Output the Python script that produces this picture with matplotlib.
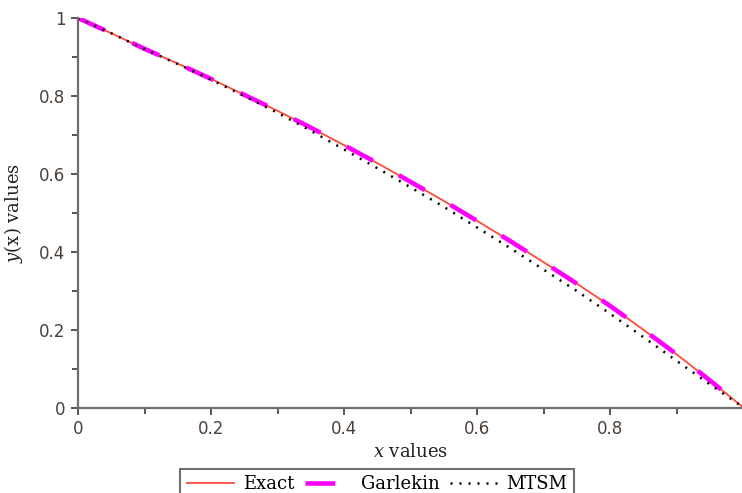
import numpy as np
import matplotlib
matplotlib.use("Agg")
import matplotlib.pyplot as plt

# values
x = [0.0, 0.05, 0.1, 0.15, 0.2, 0.25, 0.3, 0.35, 0.4, 0.45, 0.5,
     0.55, 0.6, 0.65, 0.7, 0.75, 0.8, 0.85, 0.9, 0.95, 1.0]
exact = [1.000, 0.961, 0.921, 0.883, 0.844, 0.803, 0.762, 0.719, 0.674, 0.628, 0.580,
         0.531, 0.480, 0.428, 0.374, 0.319, 0.262, 0.201, 0.138, 0.071, 0.002]
garlekin = [1.000, 0.961, 0.921, 0.883, 0.844, 0.803, 0.762, 0.719, 0.674, 0.628, 0.580,
            0.531, 0.480, 0.428, 0.374, 0.319, 0.262, 0.201, 0.138, 0.071, 0.002]
mtsm = [1.000, 0.961, 0.920, 0.882, 0.842, 0.800, 0.757, 0.711, 0.663, 0.615, 0.566,
        0.516, 0.463, 0.410, 0.355, 0.300, 0.242, 0.182, 0.121, 0.061, 0.002]

xticks = [0, 0.2, 0.4, 0.6, 0.8]
xtick_labels = ["0", "0.2", "0.4", "0.6", "0.8"]
yticks = [0, 0.2, 0.4, 0.6, 0.8, 1.0]
ytick_labels = ["0", "0.2", "0.4", "0.6", "0.8", "1"]

plt.rcParams['mathtext.fontset'] = 'dejavuserif'

fig = plt.figure(figsize=(7.42, 4.93), dpi=100)
ax = fig.add_axes([78 / 742, 85 / 493, 665 / 742, 390 / 493])

ax.plot(x, exact, color='#ff4a3c', lw=1.3, label='Exact', zorder=2)
ax.plot(x, garlekin, color='#ff00ff', lw=3.3, dashes=(6.5, 6.5), label='Garlekin', zorder=3)
ax.plot(x, mtsm, color='black', lw=1.8, dashes=(0.8, 2.8), label='MTSM', zorder=4)

ax.set_xlim(0, 1)
ax.set_ylim(0, 1)
ax.set_xticks(xticks)
ax.set_xticklabels(xtick_labels)
ax.set_yticks(yticks)
ax.set_yticklabels(ytick_labels)
ax.set_xticks(np.arange(0.1, 1.0, 0.2), minor=True)
ax.set_yticks(np.arange(0.1, 1.0, 0.2), minor=True)

for side in ['top', 'right']:
    ax.spines[side].set_visible(False)
for side in ['left', 'bottom']:
    ax.spines[side].set_color('#6e6e6e')
    ax.spines[side].set_linewidth(1.6)
ax.spines['left'].set_zorder(5)

ax.tick_params(which='major', direction='out', length=5, width=1.2, color='#3a3a3a',
               labelsize=12, labelcolor='#4a4038', pad=4)
ax.tick_params(which='minor', direction='out', length=4, width=1.2, color='#3a3a3a')
for lab in ax.get_xticklabels() + ax.get_yticklabels():
    lab.set_family('DejaVu Sans')

ax.set_xlabel(r'$x$ values', fontsize=13, family='DejaVu Serif', color='#222222', labelpad=3)
ax.set_ylabel(r'$y$(x) values', fontsize=13, family='DejaVu Serif', color='#222222', labelpad=10)

leg = fig.legend(loc='upper center', bbox_to_anchor=(0.508, 0.049), ncol=3,
                 frameon=True, fancybox=False, edgecolor='#6e6e6e', framealpha=1,
                 prop={'family': 'DejaVu Serif', 'size': 13},
                 handlelength=2.6, handletextpad=0.5, columnspacing=0.6,
                 borderpad=0.35, borderaxespad=0)
leg.get_frame().set_linewidth(1.5)

fig.savefig('out.png', dpi=100)
